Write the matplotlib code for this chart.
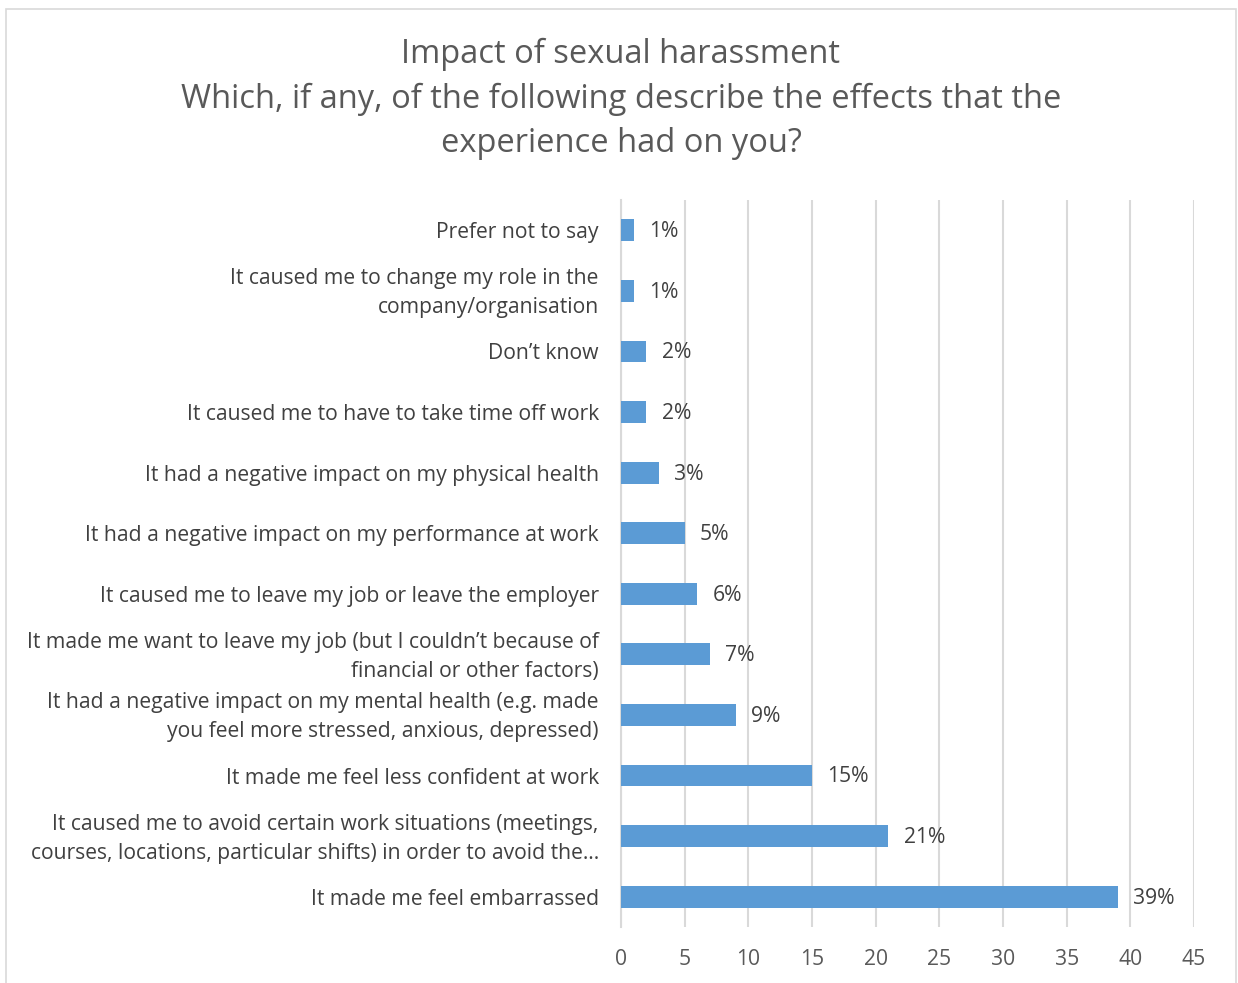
import matplotlib
matplotlib.use("Agg")
import matplotlib.pyplot as plt
import matplotlib.transforms as mtransforms
from matplotlib.patches import Rectangle

# Data (top to bottom as displayed)
categories = [
    "Prefer not to say",
    "It caused me to change my role in the\ncompany/organisation",
    "Don\u2019t know",
    "It caused me to have to take time off work",
    "It had a negative impact on my physical health",
    "It had a negative impact on my performance at work",
    "It caused me to leave my job or leave the employer",
    "It made me want to leave my job (but I couldn\u2019t because of\nfinancial or other factors)",
    "It had a negative impact on my mental health (e.g. made\nyou feel more stressed, anxious, depressed)",
    "It made me feel less confident at work",
    "It caused me to avoid certain work situations (meetings,\ncourses, locations, particular shifts) in order to avoid the\u2026",
    "It made me feel embarrassed",
]
values = [1, 1, 2, 2, 3, 5, 6, 7, 9, 15, 21, 39]
xticks = [0, 5, 10, 15, 20, 25, 30, 35, 40, 45]
title = "Impact of sexual harassment\nWhich, if any, of the following describe the effects that the\nexperience had on you?"

plt.rcParams['font.family'] = ['Open Sans', 'DejaVu Sans']
text_color = "#404040"
grid_color = "#d9d9d9"
bar_color = "#5b9bd5"
fs = 15.2

fig = plt.figure(figsize=(12.38, 9.83), dpi=100)
fig.patch.set_facecolor("white")
# chart border
fig.add_artist(Rectangle((6/1238, -0.02), 1230/1238, 1.02 - 9/983, transform=fig.transFigure,
                         fill=False, edgecolor="#d9d9d9", linewidth=1.2))

ax = fig.add_axes([621/1238, 1 - 927/983, (1194 - 621)/1238, (927 - 200)/983])
ypos = list(range(len(categories)))
ax.barh(ypos, values, height=0.36, color=bar_color, zorder=3)
ax.set_ylim(len(categories) - 0.5, -0.5)
ax.set_xlim(0, 45)
ax.set_xticks(xticks)
ax.set_xticklabels([str(t) for t in xticks], fontsize=fs, color="#595959")
ax.set_yticks(ypos)
ax.set_yticklabels(categories, fontsize=fs, color=text_color, linespacing=1.5)
ax.tick_params(axis='y', length=0, pad=16)
ax.tick_params(axis='x', length=0, pad=16)
ax.grid(axis='x', color=grid_color, linewidth=1.5, zorder=0)
for s in ["top", "right", "bottom"]:
    ax.spines[s].set_visible(False)
ax.spines["left"].set_color(grid_color)
ax.spines["left"].set_linewidth(1.5)

# nudge two-line labels up slightly
shift = mtransforms.ScaledTranslation(0, 4/100, fig.dpi_scale_trans)
for lbl in ax.get_yticklabels():
    if "\n" in lbl.get_text():
        lbl.set_transform(lbl.get_transform() + shift)

for y, v in zip(ypos, values):
    ax.annotate(f"{v}%", xy=(v, y), xytext=(11, -1), textcoords="offset points",
                va="center", ha="left", fontsize=fs, color=text_color)

fig.text(621/1238, 1 - 99/983, title, ha="center", va="center", fontsize=23.5,
         color="#595959", linespacing=1.45)

fig.savefig("out.png", dpi=100)
